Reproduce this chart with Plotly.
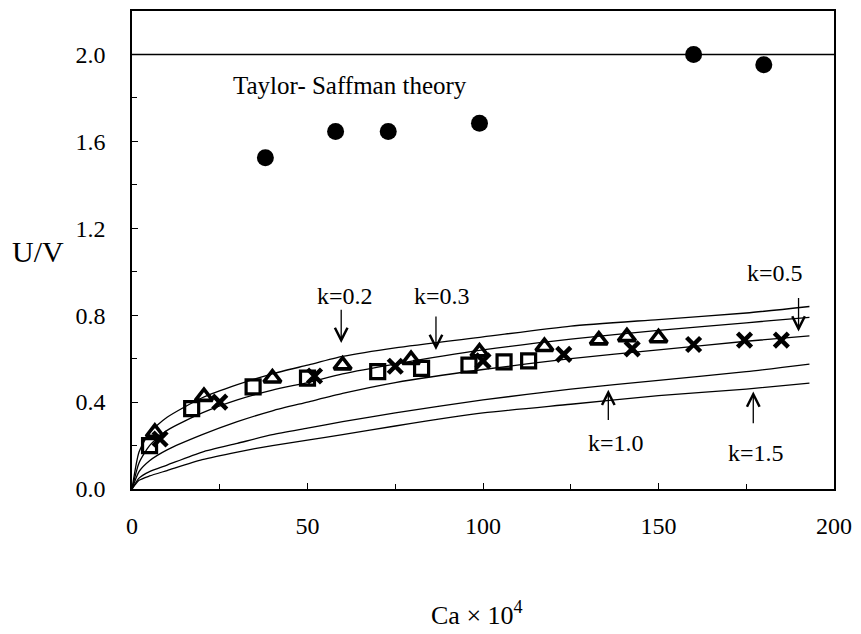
import plotly.graph_objects as go

# ---- data ----
ca_curve = [0, 2, 5, 10, 20, 30, 40, 50, 60, 75, 100, 125, 150, 175, 193]
k02 = [0, 0.17, 0.26, 0.33, 0.42, 0.48, 0.53, 0.57, 0.61, 0.65, 0.70, 0.75, 0.78, 0.81, 0.84]
k03 = [0, 0.12, 0.20, 0.27, 0.35, 0.41, 0.455, 0.49, 0.53, 0.575, 0.64, 0.69, 0.73, 0.765, 0.79]
k05 = [0, 0.08, 0.13, 0.18, 0.25, 0.31, 0.36, 0.40, 0.44, 0.49, 0.55, 0.60, 0.64, 0.68, 0.705]
k10 = [0, 0.05, 0.08, 0.11, 0.17, 0.21, 0.25, 0.28, 0.31, 0.35, 0.41, 0.46, 0.50, 0.54, 0.575]
k15 = [0, 0.04, 0.06, 0.085, 0.135, 0.17, 0.20, 0.225, 0.25, 0.29, 0.35, 0.39, 0.43, 0.46, 0.487]

sq_x = [5, 17, 34.5, 50, 70, 82.5, 96, 106, 113]
sq_y = [0.20, 0.37, 0.47, 0.51, 0.54, 0.555, 0.57, 0.585, 0.59]
tri_x = [6.5, 20.5, 40, 60, 79.5, 99, 117.5, 133, 141, 150]
tri_y = [0.26, 0.425, 0.51, 0.57, 0.595, 0.63, 0.655, 0.685, 0.70, 0.695]
cr_x = [8, 25, 52, 75, 100, 123, 142.5, 160, 174.5, 185]
cr_y = [0.23, 0.40, 0.52, 0.565, 0.59, 0.62, 0.645, 0.665, 0.685, 0.685]
circ_x = [38, 58, 73, 99, 160, 180]
circ_y = [1.525, 1.645, 1.645, 1.683, 2.0, 1.953]

ts_x = [0, 200]
ts_y = [2.0, 2.0]

x_ticks = [0, 50, 100, 150, 200]
y_ticks = [0.0, 0.4, 0.8, 1.2, 1.6, 2.0]

k_labels = ["k=0.2", "k=0.3", "k=0.5", "k=1.0", "k=1.5"]
k_label_x = [60.8, 88.3, 183.2, 138, 177.9]
k_label_y = [0.889, 0.889, 0.993, 0.211, 0.166]
arrow_x = [59.6, 86.6, 189.9, 135.7, 177]
arrow_tail_y = [0.832, 0.801, 0.886, 0.311, 0.296]
arrow_tip_y = [0.672, 0.640, 0.725, 0.457, 0.449]

FONT = "Liberation Serif, Times New Roman, serif"

fig = go.Figure()

for ys in [k02, k03, k05, k10, k15]:
    fig.add_trace(go.Scatter(x=ca_curve, y=ys, mode="lines",
                             line=dict(color="black", width=1.3, shape="spline", smoothing=0.6),
                             showlegend=False, hoverinfo="skip"))

fig.add_trace(go.Scatter(x=ts_x, y=ts_y, mode="lines",
                         line=dict(color="black", width=1.5), showlegend=False))

fig.add_trace(go.Scatter(x=sq_x, y=sq_y, mode="markers",
                         marker=dict(symbol="square-open", size=14, color="black",
                                     line=dict(width=3.2, color="black")),
                         showlegend=False))
fig.add_trace(go.Scatter(x=tri_x, y=tri_y, mode="markers",
                         marker=dict(symbol="triangle-up-open", size=15, color="black",
                                     line=dict(width=3.6, color="black")),
                         showlegend=False))
fig.add_trace(go.Scatter(x=cr_x, y=cr_y, mode="markers",
                         marker=dict(symbol="x-thin", size=14, color="black",
                                     line=dict(width=4.5, color="black")),
                         showlegend=False))
fig.add_trace(go.Scatter(x=circ_x, y=circ_y, mode="markers",
                         marker=dict(symbol="circle", size=17, color="black"),
                         showlegend=False))

annotations = []
for t, x, y in zip(k_labels, k_label_x, k_label_y):
    annotations.append(dict(x=x, y=y, xref="x", yref="y", text=t, showarrow=False,
                            font=dict(family=FONT, size=24, color="black")))
for x, y0, y1 in zip(arrow_x, arrow_tail_y, arrow_tip_y):
    annotations.append(dict(x=x, y=y1, ax=x, ay=y0, xref="x", yref="y",
                            axref="x", ayref="y", text="", showarrow=True,
                            arrowhead=5, arrowsize=1.9, arrowwidth=1.3,
                            arrowcolor="black"))
annotations.append(dict(x=62, y=1.859, xref="x", yref="y", text="Taylor- Saffman theory",
                        showarrow=False, font=dict(family=FONT, size=25, color="black")))
annotations.append(dict(x=-0.1335, y=0.4965, xref="paper", yref="paper", text="U/V",
                        showarrow=False, xanchor="center", yanchor="middle",
                        font=dict(family=FONT, size=30, color="black")))
annotations.append(dict(x=0.491, y=-0.222, xref="paper", yref="paper",
                        text="Ca \u00d7 10<sup>4</sup>",
                        showarrow=False, xanchor="center", yanchor="top",
                        font=dict(family=FONT, size=26, color="black")))

fig.update_layout(
    width=861, height=634,
    margin=dict(l=132, r=25, t=9, b=145),
    paper_bgcolor="white", plot_bgcolor="white",
    font=dict(family=FONT, size=24, color="black"),
    annotations=annotations,
    xaxis=dict(range=[0, 200], tickvals=x_ticks, ticktext=[str(v) for v in x_ticks],
               ticks="inside", ticklen=6, tickwidth=1.2, tickcolor="black",
               minor=dict(dtick=25, ticks="inside", ticklen=5, tickcolor="black"),
               showline=True, linecolor="black", linewidth=1.6, mirror=True,
               showgrid=False, zeroline=False, ticklabelstandoff=14,
               tickfont=dict(family=FONT, size=24, color="black")),
    yaxis=dict(range=[0, 2.2], tickvals=y_ticks, ticktext=[f"{v:.1f}" for v in y_ticks],
               ticks="inside", ticklen=6, tickwidth=1.2, tickcolor="black",
               minor=dict(dtick=0.2, ticks="inside", ticklen=5, tickcolor="black"),
               showline=True, linecolor="black", linewidth=1.6, mirror=True,
               showgrid=False, zeroline=False, ticklabelstandoff=20,
               tickfont=dict(family=FONT, size=24, color="black")),
)

fig.write_html("out.html", config={"displayModeBar": False},
               post_script="document.body.style.margin='0';")
